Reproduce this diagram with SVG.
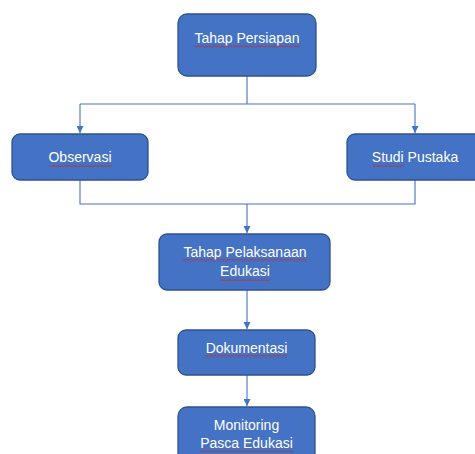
<svg xmlns="http://www.w3.org/2000/svg" width="475" height="454" viewBox="0 0 475 454">
<style>
.box{fill:#4472C4;stroke:#2F528F;stroke-width:1.3}
.lbl{font-family:"Liberation Sans",Arial,sans-serif;font-size:14px;fill:#FFFFFF;text-anchor:middle}
.con{fill:none;stroke:#4472C4;stroke-width:1.1}
.sp{fill:url(#wavy)}
</style>
<defs>
<marker id="arr" viewBox="0 0 10 10" refX="10" refY="5" markerWidth="7" markerHeight="7" markerUnits="userSpaceOnUse" orient="auto">
<path d="M0,0 L10,5 L0,10 Z" fill="#4472C4"/>
</marker>
<pattern id="wavy" patternUnits="userSpaceOnUse" width="4" height="3">
<path d="M0,2.5 L2,0.5 L4,2.5" fill="none" stroke="#D02020" stroke-width="0.9"/>
</pattern>
</defs>
<rect width="475" height="454" fill="#FFFFFF"/>
<g id="connectors">
<path class="con" d="M247,76 V104 M80,104 H415"/>
<path class="con" d="M80,104 V133" marker-end="url(#arr)"/>
<path class="con" d="M415,104 V133" marker-end="url(#arr)"/>
<path class="con" d="M80,180 V204 H415 V180 M247,204"/>
<path class="con" d="M247,204 V233" marker-end="url(#arr)"/>
<path class="con" d="M247,290 V329" marker-end="url(#arr)"/>
<path class="con" d="M247,375 V406" marker-end="url(#arr)"/>
</g>
<g id="tahap-persiapan">
<rect class="box" x="178" y="14" width="138" height="62" rx="9"/>
<text class="lbl" x="247" y="43">Tahap Persiapan</text>
<rect class="sp" x="194" y="45" width="106" height="3"/>
</g>
<g id="observasi">
<rect class="box" x="12" y="134" width="136" height="46" rx="8"/>
<text class="lbl" x="80" y="162">Observasi</text>
<rect class="sp" x="49" y="164" width="63" height="3"/>
</g>
<g id="studi-pustaka">
<rect class="box" x="347" y="134" width="140" height="46" rx="8"/>
<text class="lbl" x="415" y="162">Studi Pustaka</text>
<rect class="sp" x="372" y="164" width="32" height="3"/>
</g>
<g id="tahap-pelaksanaan">
<rect class="box" x="159" y="234" width="171" height="56" rx="8"/>
<text class="lbl" x="245" y="257">Tahap Pelaksanaan</text>
<text class="lbl" x="245" y="276">Edukasi</text>
<rect class="sp" x="183" y="259" width="124" height="3"/>
<rect class="sp" x="220" y="278" width="50" height="3"/>
</g>
<g id="dokumentasi">
<rect class="box" x="178" y="330" width="137" height="45" rx="8"/>
<text class="lbl" x="246.5" y="353">Dokumentasi</text>
<rect class="sp" x="205" y="355" width="82" height="3"/>
</g>
<g id="monitoring">
<rect class="box" x="178" y="407" width="137" height="60" rx="9"/>
<text class="lbl" x="246.5" y="430">Monitoring</text>
<text class="lbl" x="246.5" y="448">Pasca Edukasi</text>
<rect class="sp" x="200" y="450" width="93" height="3"/>
</g>
</svg>
